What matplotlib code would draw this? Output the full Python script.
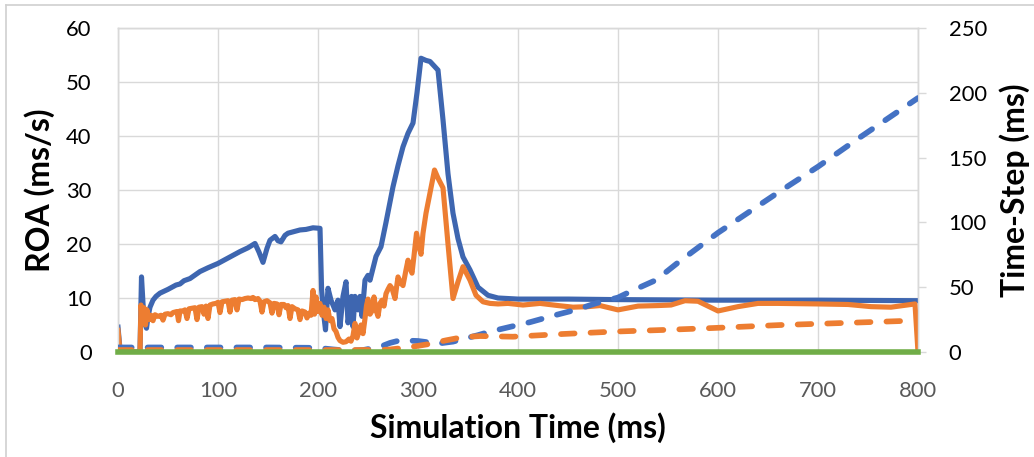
import matplotlib
matplotlib.use("Agg")
import matplotlib.pyplot as plt
from matplotlib.lines import Line2D

plt.rcParams['font.family'] = ['Lato', 'DejaVu Sans']

# ---- ROA series (left axis, ms/s) ----
roa1_t = [0, 2, 4, 21, 22, 23.5, 25, 26.5, 28.5, 30, 32, 35, 38, 42, 50, 58, 62, 66, 72,
          82, 90, 100, 110, 122, 130, 137, 141, 145, 149, 152, 157, 160, 163, 167, 170,
          176, 182, 188, 195, 202, 203.6, 206, 207.5, 210, 213, 217, 220, 222, 225, 228,
          230, 232, 233.5, 235, 237, 240, 242, 244, 247, 250, 252, 258, 263, 268, 275,
          280, 285, 290, 295, 299, 303, 308, 312, 320, 325, 330, 335, 340, 345, 352, 360,
          370, 380, 400, 450, 500, 600, 700, 800]
roa1 = [4.6, 0.5, 0, 0, 0.3, 13.9, 9.0, 5.5, 4.4, 6.5, 8.3, 9.6, 10.3, 10.9, 11.6, 12.4,
        12.6, 13.2, 13.6, 14.9, 15.6, 16.4, 17.4, 18.6, 19.3, 20.1, 18.5, 16.6, 19.2,
        20.7, 21.4, 20.6, 20.4, 21.6, 22.0, 22.3, 22.6, 22.7, 23.0, 22.9, 11.5, 6.5, 4.1,
        11.8, 9.6, 7.8, 9.6, 4.7, 10.3, 13.0, 5.4, 7.8, 10.3, 4.7, 10.3, 7.8, 10.3, 6.6,
        13.3, 14.2, 13.3, 17.7, 19.5, 24.0, 30.6, 34.5, 38.0, 40.5, 42.4, 48.0, 54.4,
        54.0, 53.8, 52.2, 43.0, 33.0, 25.7, 21.0, 17.6, 15.2, 12.0, 10.5, 10.0, 9.8, 9.8,
        9.7, 9.6, 9.6, 9.5]

roa2_t = [0, 2, 5, 22, 23, 24.5, 26, 27.5, 29, 31, 33, 35, 37, 40, 43, 45, 47, 50, 53, 55,
          57, 59, 60.5, 62, 65, 67, 69, 71, 74, 77, 79, 81, 84, 86, 88, 90, 92, 95, 98, 100,
          102, 104, 107, 110, 112, 114, 117, 119, 121, 124, 127, 130, 133, 135, 137, 140,
          142, 144, 146, 149, 152, 154, 156, 159, 161, 163, 166, 168, 170, 172, 174, 177,
          180, 182, 184, 187, 189, 191, 193, 195, 196.5, 198, 200, 202, 204, 206, 208, 210,
          212, 214, 216, 218, 220, 222, 225, 228, 231, 233, 235, 237, 239, 241, 243, 245,
          247, 248.5, 250, 252, 254, 256, 258, 260, 262, 264, 266, 268, 270, 272, 274, 277,
          280, 283, 285, 288, 290, 292, 294, 296, 298.5, 301, 303, 305, 308, 312, 316.5,
          320, 325, 330, 335, 340, 345, 352, 358, 365, 372, 380, 390, 405, 422, 440, 455,
          470, 482, 500, 520, 540, 553, 567, 580, 600, 620, 640, 660, 700, 730, 753, 773,
          797, 800]
roa2 = [4.0, 0.3, 0, 0, 8.7, 5.5, 8.2, 5.0, 7.8, 6.0, 6.8, 5.8, 6.9, 6.6, 6.8, 5.9, 7.0,
        7.1, 6.9, 7.3, 7.4, 7.5, 5.8, 7.6, 7.6, 7.8, 6.2, 8.0, 8.1, 8.2, 6.0, 8.3, 8.4, 7.0,
        8.5, 6.2, 8.7, 8.9, 9.0, 9.2, 7.3, 9.3, 9.4, 9.5, 7.4, 9.6, 9.7, 7.8, 9.8, 9.7, 9.9,
        10.0, 9.9, 10.1, 9.7, 9.9, 9.4, 7.4, 9.3, 9.5, 9.1, 7.2, 9.0, 8.9, 6.9, 8.8, 8.8,
        8.2, 8.6, 6.2, 8.4, 8.0, 7.8, 6.0, 7.6, 7.4, 6.3, 7.2, 6.8, 11.4, 7.0, 10.2, 7.5,
        9.0, 6.8, 8.3, 6.2, 7.8, 5.8, 6.2, 4.3, 3.8, 2.7, 2.1, 1.8, 1.9, 2.4, 2.0, 3.0, 5.3,
        2.6, 3.8, 5.0, 3.4, 6.2, 8.6, 9.8, 7.0, 7.6, 10.2, 7.8, 6.6, 9.0, 9.6, 8.5, 10.8,
        11.6, 12.3, 11.8, 9.9, 13.9, 12.7, 12.3, 15.2, 17.0, 15.5, 14.6, 17.8, 22.0, 19.5,
        18.1, 22.0, 25.7, 29.5, 33.7, 32.2, 30.4, 20.0, 9.9, 13.0, 15.8, 13.3, 10.5, 9.3,
        9.0, 8.9, 9.0, 8.7, 9.0, 8.6, 8.3, 8.4, 8.6, 7.8, 8.5, 8.6, 8.7, 9.5, 9.4, 7.6,
        8.4, 9.0, 9.0, 8.9, 8.8, 8.4, 8.3, 8.9, 0.0]

roa3_t = [0, 800]
roa3 = [0, 0]

# ---- Time-step series (right axis, ms) ----
ts1_t = [0, 50, 100, 150, 200, 215, 230, 245, 255, 262, 272, 282, 300, 320, 335, 345, 360,
         372, 390, 412, 438, 460, 478, 500, 512, 538, 560, 600, 660, 700, 737, 800]
ts1 = [3.5, 3.5, 3.5, 3.5, 3.2, 2.0, 1.0, 1.5, 3.0, 4.0, 7.0, 9.0, 8.5, 6.5, 8.0, 10.0,
       13.0, 15.7, 19.0, 23.0, 28.6, 33.0, 37.6, 42.0, 46.5, 55.5, 69.0, 92.0, 123.0,
       143.0, 163.0, 196.0]

ts2_t = [0, 240, 270, 290, 310, 328, 345, 362, 395, 445, 495, 545, 595, 662, 730, 795]
ts2 = [1.5, 1.5, 1.8, 3.5, 6.0, 9.0, 11.5, 12.3, 11.8, 13.9, 15.7, 17.0, 18.5, 20.8, 22.5,
       24.2]

x_ticks = [0, 100, 200, 300, 400, 500, 600, 700, 800]
y_left_ticks = [0, 10, 20, 30, 40, 50, 60]
y_right_ticks = [0, 50, 100, 150, 200, 250]

BLUE = '#3E66B0'
BLUE_D = '#4472C4'
ORANGE = '#ED7D31'
GREEN = '#70AD47'
GRID = '#d9d9d9'

W, H, DPI = 1034, 457, 100
fig = plt.figure(figsize=(W / DPI, H / DPI), dpi=DPI)
ax = fig.add_axes([118 / W, 1 - 352 / H, 800 / W, 324 / H])
ax2 = ax.twinx()

ax.plot(roa1_t, roa1, color=BLUE, lw=3.7, solid_joinstyle='round', zorder=3)
ax.plot(roa2_t, roa2, color=ORANGE, lw=3.7, solid_joinstyle='round', zorder=4)

ax2.plot(ts1_t, ts1, color=BLUE_D, lw=4.1, dashes=(2.4, 2.8), dash_capstyle='round', zorder=3)
ax2.plot(ts2_t, ts2, color=ORANGE, lw=4.1, dashes=(2.4, 2.8), dash_capstyle='round', zorder=4)
ax2.plot(roa3_t, [v * 250 / 60 for v in roa3], color=GREEN, lw=4.0, zorder=5,
         clip_on=False)

ax.set_xlim(0, 800)
ax.set_ylim(0, 60)
ax2.set_ylim(0, 250)
ax.set_xticks(x_ticks)
ax.set_yticks(y_left_ticks)
ax2.set_yticks(y_right_ticks)

ax.grid(True, color=GRID, lw=1.0, zorder=0)
ax.set_axisbelow(True)
for a in (ax, ax2):
    for s in a.spines.values():
        s.set_color(GRID)
        s.set_linewidth(1.0)

TICK_SIZE = 15.8
ax.tick_params(axis='x', length=0, pad=21, labelsize=TICK_SIZE, labelcolor='#595959')
ax.tick_params(axis='y', length=0, pad=19, labelsize=TICK_SIZE, labelcolor='black')
ax2.tick_params(axis='y', length=6, width=1, color=GRID, pad=16, labelsize=TICK_SIZE,
                labelcolor='black')

LABEL_SIZE = 23
ax.set_xlabel('Simulation Time (ms)', fontsize=LABEL_SIZE, fontweight='bold', va='center')
ax.xaxis.set_label_coords(0.5, (352 - 428) / 324)
ax.set_ylabel('ROA (ms/s)', fontsize=LABEL_SIZE, fontweight='bold', va='center')
ax.yaxis.set_label_coords((40 - 118) / 800, 0.5)
ax2.set_ylabel('Time-Step (ms)', fontsize=LABEL_SIZE, fontweight='bold', va='center')
ax2.yaxis.set_label_coords((1015 - 118) / 800, 0.5)

# light frame along the top and left edges of the figure
fig.add_artist(Line2D([6 / W, 1], [1 - 5 / H, 1 - 5 / H], color='#d0d0d0', lw=1.2,
                      transform=fig.transFigure))
fig.add_artist(Line2D([6 / W, 6 / W], [0, 1 - 5 / H], color='#d0d0d0', lw=1.2,
                      transform=fig.transFigure))

fig.savefig('out.png', dpi=DPI)
